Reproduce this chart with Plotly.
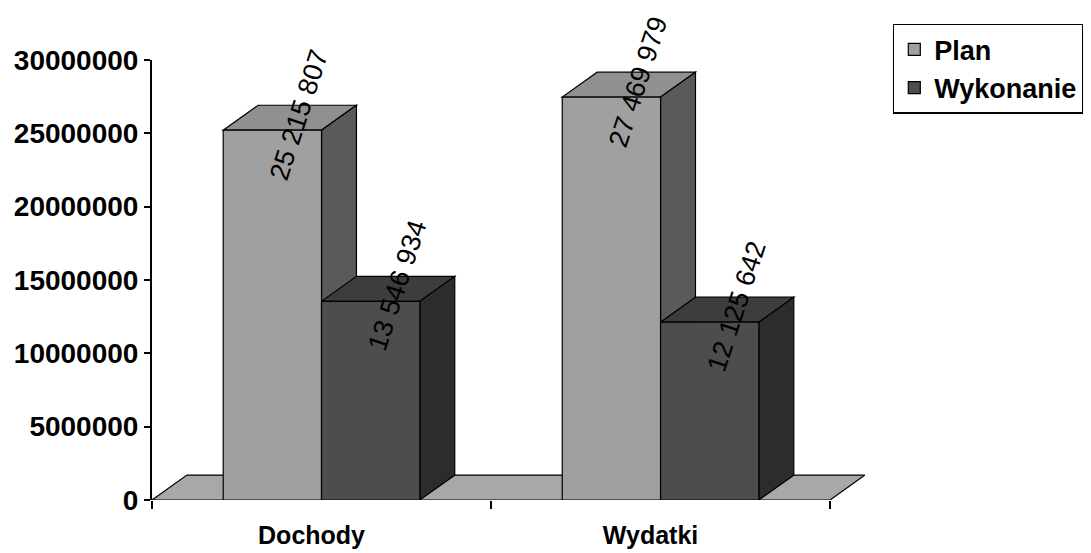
import plotly.graph_objects as go

categories = ["Dochody", "Wydatki"]
plan = [25215807, 27469979]
wykonanie = [13546934, 12125642]
y_ticks = [0, 5000000, 10000000, 15000000, 20000000, 25000000, 30000000]

FONT = "Liberation Sans, Arial, sans-serif"
BAR_W = 0.29
DX = 0.103      # depth offset, category units
DY = 1700000    # depth offset, value units

series = [
    ("Plan", plan, -BAR_W, "#a0a0a0", "#909090", "#5a5a5a"),
    ("Wykonanie", wykonanie, 0.0, "#4d4d4d", "#3d3d3d", "#2c2c2c"),
]
xs = list(range(len(categories)))

fig = go.Figure()
for name, vals, off, front, top, side in series:
    fig.add_trace(go.Bar(
        x=xs, y=vals, name=name, width=BAR_W, offset=off,
        marker=dict(color=front, line=dict(color="black", width=1.2)),
    ))

shapes = []
shapes.append(dict(
    type="path", xref="x", yref="y",
    path=f"M -0.5,0 L 1.5,0 L {1.5+DX},{DY} L {-0.5+DX},{DY} Z",
    fillcolor="#a8a8a8", line=dict(color="black", width=1.2), layer="below"))
for name, vals, off, front, top, side in series:
    for x, v in zip(xs, vals):
        x0 = x + off
        x1 = x0 + BAR_W
        shapes.append(dict(
            type="path", xref="x", yref="y",
            path=f"M {x0},{v} L {x1},{v} L {x1+DX},{v+DY} L {x0+DX},{v+DY} Z",
            fillcolor=top, line=dict(color="black", width=1.2), layer="below"))
        shapes.append(dict(
            type="path", xref="x", yref="y",
            path=f"M {x1},0 L {x1},{v} L {x1+DX},{v+DY} L {x1+DX},{DY} Z",
            fillcolor=side, line=dict(color="black", width=1.2), layer="below"))

annotations = []
for name, vals, off, front, top, side in series:
    for x, v in zip(xs, vals):
        cx = x + off + BAR_W / 2 + DX / 2
        annotations.append(dict(
            x=cx, y=v + DY / 2, xref="x", yref="y",
            text=f"{v:,}".replace(",", " "), showarrow=False,
            textangle=-72, font=dict(family=FONT, size=27, color="black"),
            xshift=9, yshift=3,
        ))

fig.update_layout(
    width=1083, height=545,
    margin=dict(l=144, r=226, t=52, b=53, autoexpand=False),
    paper_bgcolor="white", plot_bgcolor="white",
    barmode="overlay",
    shapes=shapes, annotations=annotations,
    showlegend=True,
    legend=dict(
        x=1.039, y=1.082, xanchor="left", yanchor="top",
        font=dict(family=FONT, size=27, color="black", weight="bold"),
        bordercolor="black", borderwidth=1.5, bgcolor="white",
        tracegroupgap=0, itemwidth=30,
    ),
    xaxis=dict(
        range=[-0.5, 1.5 + DX], tickvals=xs, ticktext=categories,
        ticks="", showgrid=False, zeroline=False, showline=False,
        automargin=False,
        tickfont=dict(family=FONT, size=25, color="black", weight="bold"),
        minor=dict(ticks="outside", tick0=0.5, dtick=1, ticklen=8,
                   tickcolor="black", tickwidth=1.5, showgrid=False),
        ticklabelstandoff=18, ticklabelshift=-10,
    ),
    yaxis=dict(
        range=[0, 30000000], tickvals=y_ticks,
        ticktext=[str(t) for t in y_ticks],
        ticks="outside", ticklen=6, tickcolor="black", tickwidth=1.5,
        showline=True, linecolor="black", linewidth=2,
        showgrid=False, zeroline=False, automargin=False,
        tickfont=dict(family=FONT, size=28, color="black", weight="bold"),
    ),
)

fig.write_html("out.html")
